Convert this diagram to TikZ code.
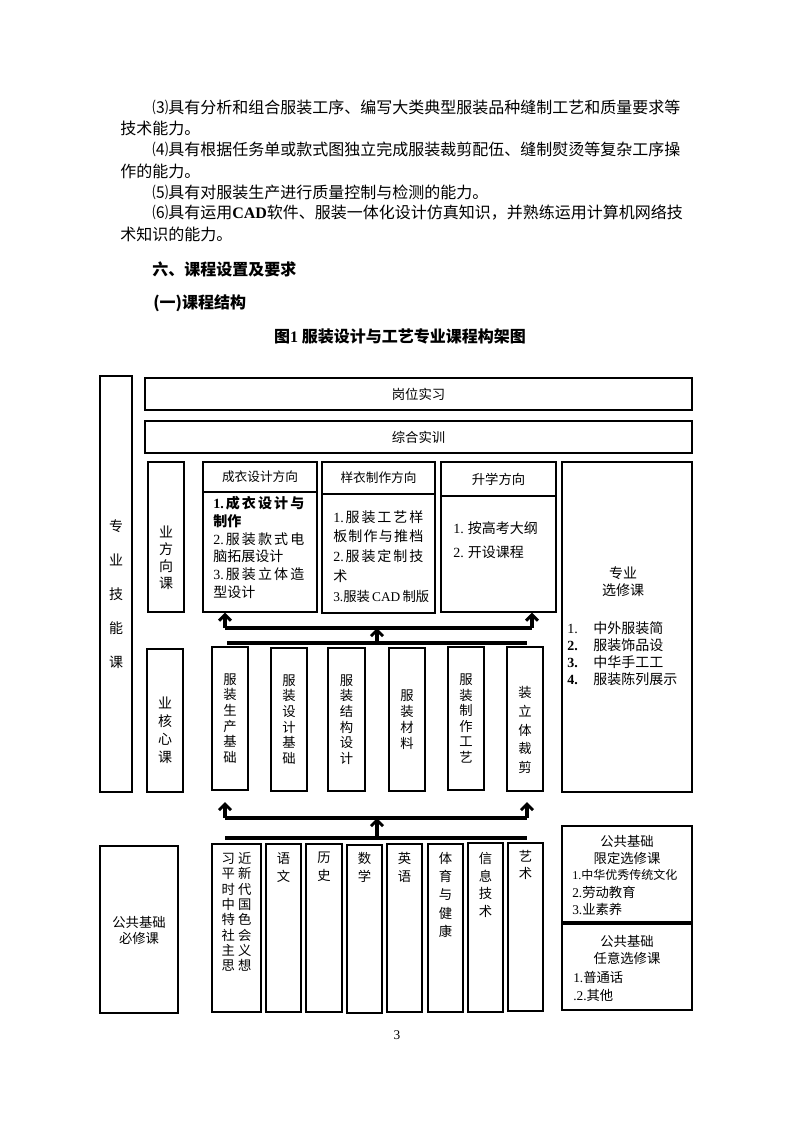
\documentclass[tikz,border=0pt]{standalone}
\usepackage{fontspec}
\setmainfont{Noto Sans CJK SC}
\newfontfamily\tm{Liberation Serif}
\usetikzlibrary{arrows.meta,fit}
\newcommand\J[2]{\makebox[#1][s]{#2}}
\newcommand\fs[2]{\fontsize{#1}{#2}\selectfont}
\begin{document}
\begin{tikzpicture}[x=0.75pt,y=-0.75pt,
  box/.style={draw,line width=0.9pt,inner sep=0pt},
  bodytxt/.style={inner sep=0pt,anchor=west,font=\fs{12pt}{14pt}},
  headtxt/.style={inner sep=0pt,anchor=west,font=\fs{12pt}{14pt}\bfseries},
  ctxt/.style={inner sep=0pt,align=center,font=\fs{10pt}{12pt}},
  ltxt/.style={inner sep=0pt,anchor=west,font=\fs{10.5pt}{12pt}},
  conn/.style={line width=2.3pt},
  arr/.style={line width=2.3pt,-{Straight Barb[length=4.5pt,width=9pt,line width=2.2pt]}}]
\useasboundingbox (0,0) rectangle (793,1122);
\fill[white] (0,0) rectangle (793,1122);

% ---------- body text ----------
\node[bodytxt] (t1) at (152,107) {⑶具有分析和组合服装工序、编写大类典型服装品种缝制工艺和质量要求等};
\node[bodytxt] (t2) at (120,128) {技术能力。};
\node[bodytxt] (t3) at (152,149) {⑷具有根据任务单或款式图独立完成服装裁剪配伍、缝制熨烫等复杂工序操};
\node[bodytxt] (t4) at (120,171) {作的能力。};
\node[bodytxt] (t5) at (152,192) {⑸具有对服装生产进行质量控制与检测的能力。};
\node[bodytxt] (t6) at (152,213) {⑹具有运用{\tm\bfseries CAD}软件、服装一体化设计仿真知识，并熟练运用计算机网络技};
\node[bodytxt] (t7) at (120,234) {术知识的能力。};
\node[headtxt] (h1) at (152,269) {六、课程设置及要求};
\node[headtxt] (h2) at (153,303) {(一)课程结构};
\node[inner sep=0pt,font=\fs{12pt}{14pt}\bfseries] (cap) at (400,336) {图{\tm 1} 服装设计与工艺专业课程构架图};

% ---------- left big box ----------
\node[box,fit={(100,376) (132,792)}] (zyjn) {};
\node[ctxt,font=\fs{10.5pt}{25.5pt}] (zyjnT) at (116,594.5) {专\\业\\技\\能\\课};

% ---------- top bars ----------
\node[box,fit={(145,378) (692,410)}] (gwsx) {};
\node[ctxt,font=\fs{10pt}{12pt}] (gwsxT) at (gwsx.center) {岗位实习};
\node[box,fit={(145,421) (692,453)}] (zhsx) {};
\node[ctxt,font=\fs{10pt}{12pt}] (zhsxT) at (zhsx.center) {综合实训};

% ---------- direction row ----------
\node[box,fit={(148,462) (184,612)}] (fxk) {};
\node[ctxt,font=\fs{10.5pt}{12.75pt}] (fxkT) at (166,557.5) {业\\方\\向\\课};

\node[box,fit={(203,462) (317,492)}] (cyh) {};
\node[ctxt,font=\fs{9.5pt}{12pt}] (cyhT) at (cyh.center) {成衣设计方向};
\node[box,fit={(203,492) (317,612)}] (cyb) {};
\node[ltxt,font=\fs{10.5pt}{12pt}\bfseries] (cy1) at (213,503) {\J{68.25pt}{{\tm\bfseries 1.}\hfil 成\hfil 衣\hfil 设\hfil 计\hfil 与}};
\node[ltxt,font=\fs{10.5pt}{12pt}\bfseries] (cy2) at (213,521) {制作};
\node[ltxt] (cy3) at (213,539) {\J{68.25pt}{{\tm 2.}\hfil 服\hfil 装\hfil 款\hfil 式\hfil 电}};
\node[ltxt] (cy4) at (213,556) {脑拓展设计};
\node[ltxt] (cy5) at (213,574) {\J{68.25pt}{{\tm 3.}\hfil 服\hfil 装\hfil 立\hfil 体\hfil 造}};
\node[ltxt] (cy6) at (213,592) {型设计};

\node[box,fit={(322,462) (435,494)}] (yyh) {};
\node[ctxt,font=\fs{9.5pt}{12pt}] (yyhT) at (yyh.center) {样衣制作方向};
\node[box,fit={(322,494) (435,613)}] (yyb) {};
\node[ltxt] (yy1) at (333,517) {\J{67.5pt}{{\tm 1.}\hfil 服\hfil 装\hfil 工\hfil 艺\hfil 样}};
\node[ltxt] (yy2) at (333,536) {\J{67.5pt}{板\hfil 制\hfil 作\hfil 与\hfil 推\hfil 档}};
\node[ltxt] (yy3) at (333,556) {\J{67.5pt}{{\tm 2.}\hfil 服\hfil 装\hfil 定\hfil 制\hfil 技}};
\node[ltxt] (yy4) at (333,576) {术};
\node[ltxt,font=\fs{10pt}{12pt}] (yy5) at (333,596) {{\tm 3.}服装{\tm\,CAD\,}制版};

\node[box,fit={(441,462) (556,496)}] (sxh) {};
\node[ctxt,font=\fs{10pt}{12pt}] (sxhT) at (sxh.center) {升学方向};
\node[box,fit={(441,496) (556,612)}] (sxb) {};
\node[ltxt] (sx1) at (453,528) {{\tm 1.} 按高考大纲};
\node[ltxt] (sx2) at (453,552) {{\tm 2.} 开设课程};

% ---------- professional electives ----------
\node[box,fit={(562,462) (692,792)}] (zyxx) {};
\node[ctxt,font=\fs{10.5pt}{12.75pt}] (zyxxT) at (623,581.5) {专业\\选修课};
\node[ltxt] (zx1) at (567,628) {\makebox[19.5pt][l]{\tm 1.}中外服装简};
\node[ltxt] (zx2) at (567,645) {\makebox[19.5pt][l]{\tm\bfseries 2.}服装饰品设};
\node[ltxt] (zx3) at (567,662) {\makebox[19.5pt][l]{\tm\bfseries 3.}中华手工工};
\node[ltxt] (zx4) at (567,679) {\makebox[19.5pt][l]{\tm\bfseries 4.}服装陈列展示};

% ---------- core row ----------
\node[box,fit={(147,649) (183,792)}] (hxk) {};
\node[ctxt,font=\fs{10.5pt}{13.5pt}] (hxkT) at (165,730) {业\\核\\心\\课};

\node[box,fit={(212,647) (248,790)}] (c1) {};
\node[ctxt,font=\fs{10pt}{11.7pt}] (c1T) at (c1.center) {服\\装\\生\\产\\基\\础};
\node[box,fit={(271,648) (307,791)}] (c2) {};
\node[ctxt,font=\fs{10pt}{11.7pt}] (c2T) at (c2.center) {服\\装\\设\\计\\基\\础};
\node[box,fit={(328,648) (365,791)}] (c3) {};
\node[ctxt,font=\fs{10pt}{11.7pt}] (c3T) at (c3.center) {服\\装\\结\\构\\设\\计};
\node[box,fit={(389,648) (425,791)}] (c4) {};
\node[ctxt,font=\fs{10pt}{12pt}] (c4T) at (c4.center) {服\\装\\材\\料};
\node[box,fit={(448,647) (484,790)}] (c5) {};
\node[ctxt,font=\fs{10pt}{11.7pt}] (c5T) at (c5.center) {服\\装\\制\\作\\工\\艺};
\node[box,fit={(507,647) (543,791)}] (c6) {};
\node[ctxt,font=\fs{10pt}{13.9pt}] (c6T) at (525,730) {装\\立\\体\\裁\\剪};

% ---------- arrows: core -> direction ----------
\coordinate (ua) at (225,628);
\coordinate (ub) at (532,628);
\coordinate (la) at (227,643);
\coordinate (lb) at (527,643);
\coordinate (lm) at (377,643);
\draw[conn] (ua) -- (ub);
\draw[arr] (ua) -- (ua |- cyb.south);
\draw[arr] (ub) -- (ub |- sxb.south);
\draw[conn] (la) -- (lb);
\draw[arr] (lm) -- (lm |- ua);

% ---------- arrows: public -> core ----------
\coordinate (ua2) at (225,818);
\coordinate (ub2) at (527,818);
\coordinate (ta2) at (225,802);
\coordinate (tb2) at (527,802);
\coordinate (la2) at (225,838);
\coordinate (lb2) at (527,838);
\coordinate (lm2) at (377,838);
\draw[conn] (ua2) -- (ub2);
\draw[arr] (ua2) -- (ta2);
\draw[arr] (ub2) -- (tb2);
\draw[conn] (la2) -- (lb2);
\draw[arr] (lm2) -- (lm2 |- ua2);

% ---------- public required ----------
\node[box,fit={(100,846) (178,1013)}] (ggbx) {};
\node[ctxt,font=\fs{10pt}{12pt}] (ggbxT) at (139,930) {公共基础\\必修课};

\node[box,fit={(212,844) (261,1012)}] (p1) {};
\node[ctxt,anchor=north,font=\fs{10pt}{11.5pt}] (p1T) at (236.5,852) {\J{22.5pt}{习\hfil 近}\\\J{22.5pt}{平\hfil 新}\\\J{22.5pt}{时\hfil 代}\\\J{22.5pt}{中\hfil 国}\\\J{22.5pt}{特\hfil 色}\\\J{22.5pt}{社\hfil 会}\\\J{22.5pt}{主\hfil 义}\\\J{22.5pt}{思\hfil 想}};
\node[box,fit={(266,844) (301,1012)}] (p2) {};
\node[ctxt,anchor=north,font=\fs{10pt}{13.5pt}] (p2T) at (283.5,852) {语\\文};
\node[box,fit={(306,844) (342,1012)}] (p3) {};
\node[ctxt,anchor=north,font=\fs{10pt}{13.5pt}] (p3T) at (324,852) {历\\史};
\node[box,fit={(347,845) (382,1013)}] (p4) {};
\node[ctxt,anchor=north,font=\fs{10pt}{13.5pt}] (p4T) at (364.5,852) {数\\学};
\node[box,fit={(387,844) (422,1012)}] (p5) {};
\node[ctxt,anchor=north,font=\fs{10pt}{13.5pt}] (p5T) at (404.5,852) {英\\语};
\node[box,fit={(428,844) (463,1012)}] (p6) {};
\node[ctxt,anchor=north,font=\fs{10pt}{13.7pt}] (p6T) at (445.5,852) {体\\育\\与\\健\\康};
\node[box,fit={(468,843) (503,1012)}] (p7) {};
\node[ctxt,anchor=north,font=\fs{10pt}{13.3pt}] (p7T) at (485.5,852) {信\\息\\技\\术};
\node[box,fit={(508,843) (543,1011)}] (p8) {};
\node[ctxt,anchor=north,font=\fs{10pt}{12.8pt}] (p8T) at (525.5,850) {艺\\术};

% ---------- public electives ----------
\node[box,fit={(562,826) (692,922)}] (xdxx) {};
\node[ctxt,font=\fs{10pt}{12.75pt}] (xdxxT) at (627,849.5) {公共基础\\限定选修课};
\node[ltxt,font=\fs{9pt}{11pt}] (xd1) at (572,875) {{\tm 1.}中华优秀传统文化};
\node[ltxt,font=\fs{10pt}{12pt}] (xd2) at (572,892) {{\tm 2.}劳动教育};
\node[ltxt,font=\fs{10pt}{12pt}] (xd3) at (572,909) {{\tm 3.}业素养};

\node[box,fit={(562,924) (692,1010)}] (ryxx) {};
\node[ctxt,font=\fs{10pt}{12.75pt}] (ryxxT) at (627,950) {公共基础\\任意选修课};
\node[ltxt,font=\fs{10pt}{12pt}] (ry1) at (573,977) {{\tm 1.}普通话};
\node[ltxt,font=\fs{10pt}{12pt}] (ry2) at (573,995) {{\tm .2.}其他};

% ---------- page number ----------
\node[inner sep=0pt,font=\tm\fs{10pt}{12pt}] (pg) at (397,1035) {3};
\end{tikzpicture}
\end{document}
